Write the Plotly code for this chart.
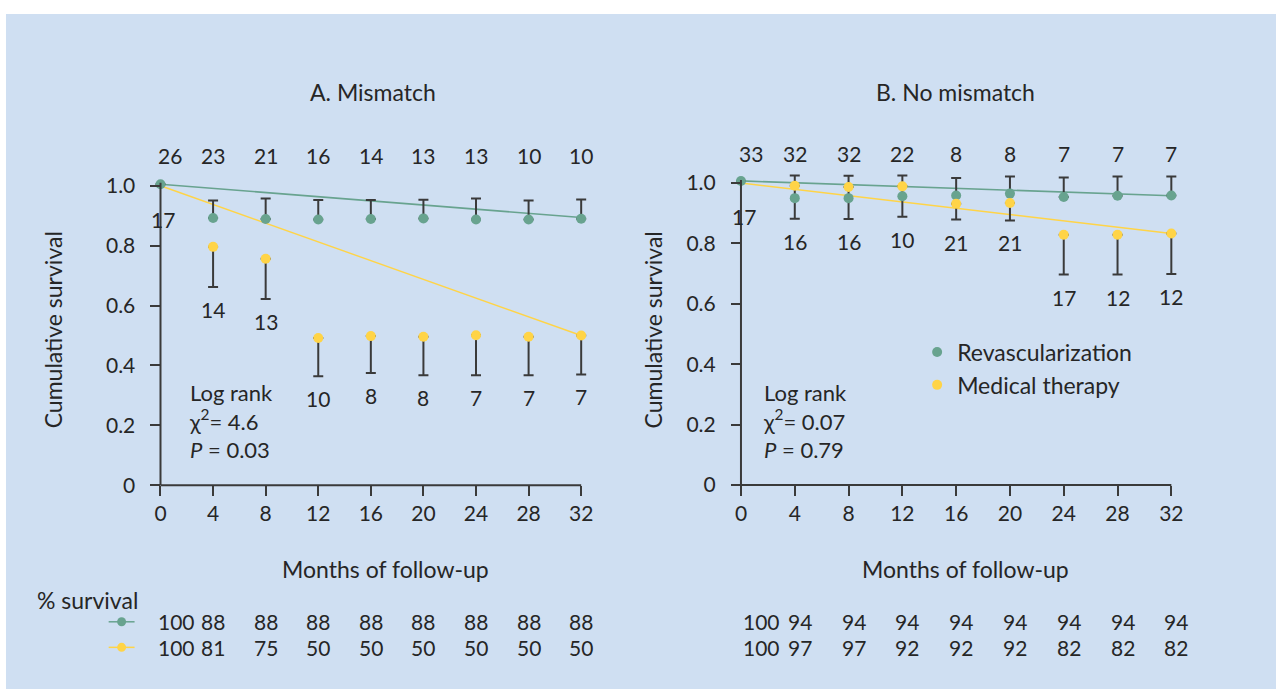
import plotly.graph_objects as go

# ---------------- data ----------------
months = [0, 4, 8, 12, 16, 20, 24, 28, 32]
y_tickvals = [0, 0.2, 0.4, 0.6, 0.8, 1.0]
y_ticktext = ["0", "0.2", "0.4", "0.6", "0.8", "1.0"]

# Panel A: Mismatch
a_rev_surv = [1.005, 0.892, 0.889, 0.887, 0.889, 0.891, 0.887, 0.887, 0.890]
a_rev_upper = [1.005, 0.951, 0.957, 0.952, 0.952, 0.953, 0.957, 0.951, 0.954]
a_rev_lower = [1.005, 0.892, 0.889, 0.887, 0.889, 0.891, 0.887, 0.887, 0.890]
a_med_surv = [1.0, 0.796, 0.756, 0.492, 0.498, 0.496, 0.501, 0.496, 0.500]
a_med_upper = [1.0, 0.796, 0.756, 0.492, 0.498, 0.496, 0.501, 0.496, 0.500]
a_med_lower = [1.0, 0.662, 0.622, 0.364, 0.375, 0.367, 0.367, 0.367, 0.370]
a_rev_trend = [1.005, 0.894]
a_med_trend = [1.0, 0.50]
a_rev_atrisk = ["26", "23", "21", "16", "14", "13", "13", "10", "10"]
a_med_atrisk = ["17", "14", "13", "10", "8", "8", "7", "7", "7"]
a_rev_pct = ["100", "88", "88", "88", "88", "88", "88", "88", "88"]
a_med_pct = ["100", "81", "75", "50", "50", "50", "50", "50", "50"]
a_stats = ["Log rank", "χ<sup>2</sup>= 4.6", "<i>P</i> = 0.03"]

# Panel B: No mismatch
b_rev_surv = [1.007, 0.950, 0.950, 0.956, 0.959, 0.965, 0.954, 0.958, 0.959]
b_rev_upper = [1.007, 1.025, 1.024, 1.025, 1.017, 1.022, 1.018, 1.022, 1.022]
b_rev_lower = [1.007, 0.882, 0.881, 0.888, 0.879, 0.876, 0.954, 0.958, 0.959]
b_med_surv = [1.0, 0.991, 0.987, 0.989, 0.931, 0.934, 0.829, 0.829, 0.833]
b_med_upper = [1.0, 0.991, 0.987, 0.989, 0.931, 0.934, 0.829, 0.829, 0.833]
b_med_lower = [1.0, 0.991, 0.987, 0.989, 0.931, 0.934, 0.697, 0.697, 0.699]
b_rev_trend = [1.007, 0.958]
b_med_trend = [1.0, 0.833]
b_rev_atrisk = ["33", "32", "32", "22", "8", "8", "7", "7", "7"]
b_med_atrisk = ["17", "16", "16", "10", "21", "21", "17", "12", "12"]
b_rev_pct = ["100", "94", "94", "94", "94", "94", "94", "94", "94"]
b_med_pct = ["100", "97", "97", "92", "92", "92", "82", "82", "82"]
b_stats = ["Log rank", "χ<sup>2</sup>= 0.07", "<i>P</i> = 0.79"]

series_names = ["Revascularization", "Medical therapy"]
titles = ["A. Mismatch", "B. No mismatch"]
x_title = "Months of follow-up"
y_title = "Cumulative survival"
pct_label = "% survival"

# ---------------- style ----------------
W, H = 1280, 690
BG = "#cfdff2"
GREEN = "#68a38f"
YELLOW = "#ffd447"
INK = "#262626"
AXC = "#3a3a3a"
FONT = "Lato, 'Open Sans', sans-serif"
FN = 21   # numbers
FT = 23   # words

X_RANGE = [-0.9, 32.6]
Y_RANGE = [-0.035, 1.05]


def px(x):
    return x / W


def py(y):
    return 1 - y / H


# pixel geometry of each panel: (x at month 0, x at month 32, y at 0, y at 1.0)
geo = [(161.0, 583.0, 486.0, 186.0), (743.3, 1175.0, 485.7, 183.3)]


def domains(g):
    x0, x32, y0, y1 = g
    mx = (x32 - x0) / 32.0
    uy = (y0 - y1)
    xd = [px(x0 + X_RANGE[0] * mx), px(x0 + X_RANGE[1] * mx)]
    yd = [py(y0 - Y_RANGE[0] * uy), py(y0 - Y_RANGE[1] * uy)]
    return xd, yd


fig = go.Figure()

panels = [
    dict(xa="x", ya="y", rev=(a_rev_surv, a_rev_upper, a_rev_lower), med=(a_med_surv, a_med_upper, a_med_lower),
         rtr=a_rev_trend, mtr=a_med_trend, top=a_rev_atrisk, bot=a_med_atrisk,
         rpct=a_rev_pct, mpct=a_med_pct, stats=a_stats),
    dict(xa="x2", ya="y2", rev=(b_rev_surv, b_rev_upper, b_rev_lower), med=(b_med_surv, b_med_upper, b_med_lower),
         rtr=b_rev_trend, mtr=b_med_trend, top=b_rev_atrisk, bot=b_med_atrisk,
         rpct=b_rev_pct, mpct=b_med_pct, stats=b_stats),
]

trend_x = [months[0], months[-1]]

for p in panels:
    xa, ya = p["xa"], p["ya"]
    fig.add_trace(go.Scatter(x=trend_x, y=p["rtr"], mode="lines", line=dict(color=GREEN, width=1.6),
                             xaxis=xa, yaxis=ya, showlegend=False, hoverinfo="skip"))
    fig.add_trace(go.Scatter(x=trend_x, y=p["mtr"], mode="lines", line=dict(color=YELLOW, width=1.4),
                             xaxis=xa, yaxis=ya, showlegend=False, hoverinfo="skip"))
    s, u, l = p["rev"]
    fig.add_trace(go.Scatter(
        x=months, y=s, mode="markers", marker=dict(color=GREEN, size=10),
        error_y=dict(type="data", symmetric=False,
                     array=[ui - si for ui, si in zip(u, s)],
                     arrayminus=[si - li for si, li in zip(s, l)],
                     color=AXC, thickness=2, width=5),
        xaxis=xa, yaxis=ya, showlegend=False, cliponaxis=False, hoverinfo="skip"))
    s, u, l = p["med"]
    fig.add_trace(go.Scatter(
        x=months[1:], y=s[1:], mode="markers", marker=dict(color=YELLOW, size=10),
        error_y=dict(type="data", symmetric=False,
                     array=[ui - si for ui, si in zip(u[1:], s[1:])],
                     arrayminus=[si - li for si, li in zip(s[1:], l[1:])],
                     color=AXC, thickness=2, width=5),
        xaxis=xa, yaxis=ya, showlegend=False, cliponaxis=False, hoverinfo="skip"))

# legend-only entries
for name, col in zip(series_names, [GREEN, YELLOW]):
    fig.add_trace(go.Scatter(x=[None], y=[None], mode="markers", name=name,
                             marker=dict(color=col, size=10), xaxis="x2", yaxis="y2", showlegend=True))

annotations = []
shapes = []

shapes.append(dict(type="rect", xref="paper", yref="paper", x0=px(6), x1=1, y0=0, y1=py(14),
                   fillcolor=BG, line=dict(width=0), layer="below"))

title_cx = [374, 958]
xtitle_cx = [387, 969]
ytitle_cx = [53, 655]
stats_left = [188, 763]

for i, p in enumerate(panels):
    xa, ya = p["xa"], p["ya"]
    # axis lines in data coordinates
    shapes.append(dict(type="line", xref=xa, yref=ya, x0=months[0], x1=months[-1], y0=0, y1=0,
                       line=dict(color=AXC, width=2)))
    shapes.append(dict(type="line", xref=xa, yref=ya, x0=0, x1=0, y0=0, y1=1.01,
                       line=dict(color=AXC, width=2)))
    annotations.append(dict(text=titles[i], xref="paper", yref="paper", x=px(title_cx[i]), y=py(92),
                            xanchor="center", yanchor="middle", showarrow=False, font=dict(size=FT)))
    annotations.append(dict(text=x_title, xref="paper", yref="paper", x=px(xtitle_cx[i]), y=py(570),
                            xanchor="center", yanchor="middle", showarrow=False, font=dict(size=FT)))
    annotations.append(dict(text=y_title, xref="paper", yref="paper", x=px(ytitle_cx[i]), y=py(330),
                            xanchor="center", yanchor="middle", textangle=-90, showarrow=False,
                            font=dict(size=FT)))
    for j, (m, t) in enumerate(zip(months, p["top"])):
        annotations.append(dict(text=t, xref=xa, yref=ya, x=m, y=1.0, yshift=30,
                                xshift=10 if j == 0 else 0,
                                xanchor="center", yanchor="middle", showarrow=False, font=dict(size=FN)))
    rs, ru, rl = p["rev"]
    ms, mu, ml = p["med"]
    for j, (m, t) in enumerate(zip(months, p["bot"])):
        low = min(rs[j], rl[j], ms[j], ml[j])
        annotations.append(dict(text=t, xref=xa, yref=ya, x=m, y=low,
                                yshift=-19 if j == 0 else -8, xshift=3 if j == 0 else 0,
                                xanchor="center", yanchor="top", showarrow=False, font=dict(size=FN)))
    for row, vals in zip([622.7, 648.3], [p["rpct"], p["mpct"]]):
        for j, (m, t) in enumerate(zip(months, vals)):
            annotations.append(dict(text=t, xref=xa, yref="paper", x=m, y=py(row),
                                    xshift=(16 if j == 0 else 0) + (5 if i == 1 else 0),
                                    xanchor="center", yanchor="middle", showarrow=False, font=dict(size=FN)))
    annotations.append(dict(text="<br>".join(p["stats"]), xref="paper", yref="paper",
                            x=px(stats_left[i]), y=py(421.5), xanchor="left", yanchor="middle",
                            align="left", showarrow=False, font=dict(size=22)))

annotations.append(dict(text=pct_label, xref="paper", yref="paper", x=px(35), y=py(600.7),
                        xanchor="left", yanchor="middle", showarrow=False, font=dict(size=FT)))

for row, col in zip([622.7, 648.3], [GREEN, YELLOW]):
    shapes.append(dict(type="line", xref="paper", yref="paper", x0=px(109), x1=px(135), y0=py(row), y1=py(row),
                       line=dict(color=col, width=1.5)))
    shapes.append(dict(type="circle", xref="paper", yref="paper", x0=px(117.5), x1=px(126.5),
                       y0=py(row + 4.5), y1=py(row - 4.5), fillcolor=col, line=dict(width=0)))

common_x = dict(range=X_RANGE, tickvals=months, ticks="outside", ticklen=10, tickwidth=2, tickcolor=AXC,
                showline=False, showgrid=False, zeroline=False,
                tickfont=dict(size=FN, color=INK), fixedrange=True)
common_y = dict(range=Y_RANGE, tickvals=y_tickvals, ticktext=y_ticktext, ticks="outside", ticklen=10,
                tickwidth=2, tickcolor=AXC, showline=False, showgrid=False,
                zeroline=False, tickfont=dict(size=FN, color=INK), ticklabelstandoff=11, fixedrange=True)

xdA, ydA = domains(geo[0])
xdB, ydB = domains(geo[1])

fig.update_layout(
    width=W, height=H, autosize=False,
    margin=dict(l=0, r=0, t=0, b=0),
    paper_bgcolor="white", plot_bgcolor="rgba(0,0,0,0)",
    font=dict(family=FONT, size=FN, color=INK),
    xaxis=dict(domain=xdA, anchor="free", position=py(geo[0][2]), **common_x),
    yaxis=dict(domain=ydA, anchor="free", position=px(geo[0][0]), **common_y),
    xaxis2=dict(domain=xdB, anchor="free", position=py(geo[1][2]), **common_x),
    yaxis2=dict(domain=ydB, anchor="free", position=px(geo[1][0]), **common_y),
    showlegend=True,
    legend=dict(x=px(920), y=py(331), xanchor="left", yanchor="top", bgcolor="rgba(0,0,0,0)",
                borderwidth=0, font=dict(size=FT, color=INK), tracegroupgap=0, itemwidth=30),
    annotations=annotations,
    shapes=shapes,
)

fig.write_html("out.html", config={"displayModeBar": False},
               post_script="document.body.style.margin='0';document.body.style.overflow='hidden';")
